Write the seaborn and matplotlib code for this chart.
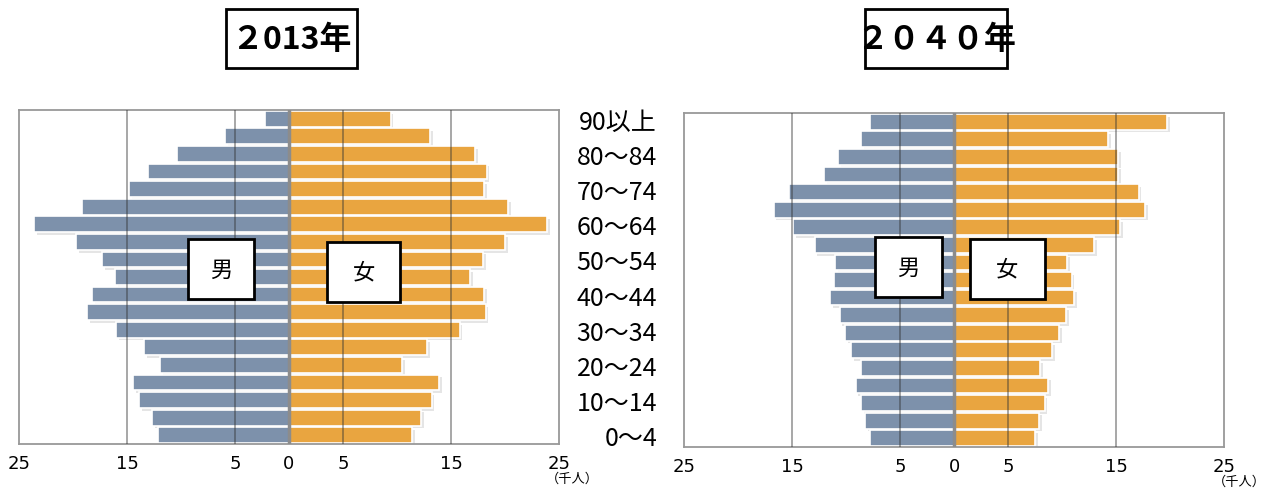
import matplotlib
matplotlib.use('Agg')
import matplotlib.pyplot as plt
import matplotlib.patheffects as pe
import matplotlib.transforms as mtransforms
from matplotlib.patches import Rectangle
import seaborn as sns
import numpy as np
import pandas as pd

# 年齢階級（上から）
ages = ['90以上', '85〜89', '80〜84', '75〜79', '70〜74', '65〜69', '60〜64',
        '55〜59', '50〜54', '45〜49', '40〜44', '35〜39', '30〜34', '25〜29',
        '20〜24', '15〜19', '10〜14', '5〜9', '0〜4']
shown_ages = ['90以上', '80〜84', '70〜74', '60〜64', '50〜54', '40〜44',
              '30〜34', '20〜24', '10〜14', '0〜4']

# 人口（千人）
male_2013 = [2.2, 5.9, 10.4, 13.1, 14.8, 19.2, 23.6, 19.7, 17.3, 16.1,
             18.2, 18.7, 16.0, 13.4, 11.9, 14.4, 13.9, 12.7, 12.1]
female_2013 = [9.4, 13.1, 17.2, 18.3, 18.1, 20.3, 23.9, 20.0, 18.0, 16.8,
               18.1, 18.2, 15.8, 12.8, 10.5, 13.9, 13.2, 12.2, 11.4]
male_2040 = [7.8, 8.6, 10.7, 12.0, 15.3, 16.7, 14.9, 12.9, 11.0, 11.1,
             11.5, 10.6, 10.1, 9.5, 8.6, 9.1, 8.6, 8.2, 7.8]
female_2040 = [19.7, 14.3, 15.2, 15.2, 17.1, 17.7, 15.4, 13.0, 10.5, 10.9,
               11.1, 10.4, 9.7, 9.1, 8.0, 8.7, 8.4, 7.9, 7.5]

xticks = [-25, -15, -5, 0, 5, 15, 25]
grid_x = [-15, -5, 5, 15]

MALE_COLOR = '#7d91ab'
FEMALE_COLOR = '#e9a540'

sns.set_style('white')
plt.rcParams['font.family'] = ['Noto Sans CJK JP', 'DejaVu Sans']
plt.rcParams['text.color'] = 'black'
plt.rcParams['xtick.color'] = 'black'

W, H = 1272, 489
fig = plt.figure(figsize=(W / 100, H / 100), dpi=100)


def fx(x):
    return x / W


def fy(y):
    return 1 - y / H


def piramide(ax, male, female):
    df = pd.DataFrame({'age': ages, 'male': -np.array(male), 'female': female})
    shadow = [pe.SimplePatchShadow(offset=(2, -2), alpha=0.2, shadow_rgbFace='gray'), pe.Normal()]
    sns.barplot(data=df, x='male', y='age', order=ages, color=MALE_COLOR,
                saturation=1, width=0.9, edgecolor='white', linewidth=1.2, ax=ax)
    sns.barplot(data=df, x='female', y='age', order=ages, color=FEMALE_COLOR,
                saturation=1, width=0.9, edgecolor='white', linewidth=1.2, ax=ax)
    for p in ax.patches:
        p.set_path_effects(shadow)
    for g in grid_x:
        ax.axvline(g, color='#333333', alpha=0.5, lw=1.2, zorder=4)
    ax.axvline(0, color='#8c8c8c', lw=2.5, zorder=5)
    ax.set_xlim(-25, 25)
    ax.set_ylim(len(ages) - 0.5, -0.5)
    ax.set_xticks(xticks)
    ax.set_xticklabels([str(abs(t)) for t in xticks],
                       family=['Liberation Sans Narrow', 'DejaVu Sans'], fontsize=13)
    ax.tick_params(axis='x', length=0, pad=7, labelcolor='black')
    ax.set_yticks([])
    ax.set_xlabel('')
    ax.set_ylabel('')
    for s in ax.spines.values():
        s.set_color('#999999')
        s.set_linewidth(1.3)
        s.set_visible(True)


def caja(x0, y0, x1, y1, text, size, bold=False):
    fig.patches.append(Rectangle((fx(x0), fy(y1)), fx(x1) - fx(x0), fy(y0) - fy(y1),
                                 transform=fig.transFigure, fill=True, facecolor='white',
                                 edgecolor='black', linewidth=2, zorder=10))
    fig.text(fx((x0 + x1) / 2), fy((y0 + y1) / 2), text, ha='center', va='center',
             fontsize=size, fontweight='bold' if bold else 'normal', color='black', zorder=11)


ax1 = fig.add_axes([fx(19), fy(445), fx(559) - fx(19), fy(111) - fy(445)])
ax2 = fig.add_axes([fx(684), fy(448), fx(1224) - fx(684), fy(114) - fy(448)])
piramide(ax1, male_2013, female_2013)
piramide(ax2, male_2040, female_2040)

# 年齢ラベル（中央）
trans = mtransforms.blended_transform_factory(ax2.transAxes, ax2.transData)
for a in shown_ages:
    ax2.text(-0.05, ages.index(a), a, transform=trans, ha='right', va='center',
             fontsize=18, color='black', clip_on=False)

# タイトル
caja(226, 10, 357, 69, '２013年', 23, bold=True)
caja(865, 10, 1007, 69, '２０４０年', 23, bold=True)

# 男・女
caja(188, 240, 254, 300, '男', 16)
caja(327, 243, 400, 303, '女', 16)
caja(875, 238, 942, 298, '男', 16)
caja(970, 240, 1045, 300, '女', 16)

# 単位
fig.text(fx(572), fy(479), '（千人）', ha='center', va='center', fontsize=9.5, color='black')
fig.text(fx(1266), fy(482), '（千人）', ha='right', va='center', fontsize=9.5, color='black')

fig.savefig('out.png', dpi=100)
